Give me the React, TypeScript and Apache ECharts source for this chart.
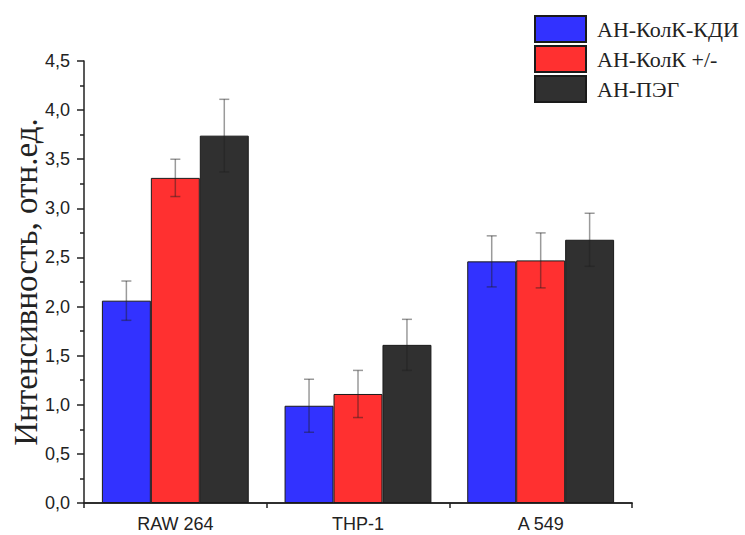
import React, { useEffect, useRef } from "react";
import * as echarts from "echarts";

const categories = ["RAW 264", "THP-1", "A 549"];
const seriesNames = ["АН-КолК-КДИ", "АН-КолК +/-", "АН-ПЭГ"];
const kdiValues = [2.06, 0.99, 2.46];
const kdiErrors = [0.2, 0.27, 0.26];
const kolkValues = [3.31, 1.11, 2.47];
const kolkErrors = [0.19, 0.24, 0.28];
const pegValues = [3.74, 1.61, 2.68];
const pegErrors = [0.37, 0.26, 0.27];
const yTicks = { min: 0, max: 4.5, interval: 0.5 };

const colors = ["#3232ff", "#ff3030", "#303030"];
const BAR_FRAC = 0.268;

export default function App() {
  const ref = useRef<HTMLDivElement>(null);
  useEffect(() => {
    if (!ref.current) return;
    const chart = echarts.init(ref.current, undefined, { renderer: "svg" });
    const values = [kdiValues, kolkValues, pegValues];
    const errors = [kdiErrors, kolkErrors, pegErrors];

    const barSeries = values.map((vals, i) => ({
      name: seriesNames[i],
      type: "bar",
      xAxisIndex: 0,
      data: vals,
      barWidth: BAR_FRAC * 100 + "%",
      barGap: "0%",
      itemStyle: { color: colors[i], borderColor: "#1a1a1a", borderWidth: 1 },
      z: 2,
    }));

    const errSeries = values.map((vals, i) => ({
      type: "custom",
      xAxisIndex: 0,
      z: 5,
      data: vals.map((v, k) => [k, v, errors[i][k]]),
      encode: { x: 0, y: 1 },
      renderItem: (params: any, api: any) => {
        const idx = api.value(0);
        const v = api.value(1);
        const e = api.value(2);
        const top = api.coord([idx, v + e]);
        const bot = api.coord([idx, v - e]);
        const w = api.size([1, 0])[0];
        const x = top[0] + (i - 1) * BAR_FRAC * w;
        const cap = 5;
        const style = { stroke: "rgba(30,30,30,0.45)", lineWidth: 1.5 };
        return {
          type: "group",
          children: [
            { type: "line", shape: { x1: x, y1: top[1], x2: x, y2: bot[1] }, style },
            { type: "line", shape: { x1: x - cap, y1: top[1], x2: x + cap, y2: top[1] }, style },
            { type: "line", shape: { x1: x - cap, y1: bot[1], x2: x + cap, y2: bot[1] }, style },
          ],
        };
      },
    }));

    chart.setOption({
      animation: false,
      grid: { left: 84, right: 113, top: 61, bottom: 32, containLabel: false, outerBoundsMode: "none" },
      legend: {
        orient: "vertical",
        left: 534,
        top: 15,
        padding: 0,
        itemWidth: 51,
        itemHeight: 26,
        itemGap: 2,
        icon: "rect",
        data: seriesNames,
        textStyle: { fontFamily: "Liberation Serif", fontSize: 22, color: "#222", padding: [0, 0, 0, 6] },
      },
      xAxis: [
        {
          type: "category",
          data: categories,
          position: "bottom",
          axisLine: { lineStyle: { color: "#222", width: 1.5 } },
          axisTick: { alignWithLabel: true, length: 8, lineStyle: { color: "#222", width: 1.5 } },
          axisLabel: { fontFamily: "Liberation Sans", fontSize: 18, color: "#222", margin: 12 },
        },
        {
          type: "category",
          data: categories,
          position: "bottom",
          axisLine: { show: true, lineStyle: { color: "#222", width: 1.5 } },
          axisTick: { show: true, length: 5, lineStyle: { color: "#222", width: 1.5 } },
          axisLabel: { show: false },
        },
      ],
      yAxis: {
        type: "value",
        min: yTicks.min,
        max: yTicks.max,
        interval: yTicks.interval,
        name: "Интенсивность, отн.ед.",
        nameLocation: "middle",
        nameGap: 42,
        nameMoveOverlap: false,
        nameTextStyle: { fontFamily: "Liberation Serif", fontSize: 33, color: "#222" },
        axisLine: { show: true, lineStyle: { color: "#222", width: 1.5 } },
        axisTick: { show: true, length: 7, lineStyle: { color: "#222", width: 1.5 } },
        minorTick: { show: true, splitNumber: 2, length: 4, lineStyle: { color: "#222", width: 1.5 } },
        splitLine: { show: false },
        axisLabel: {
          fontFamily: "Liberation Sans",
          fontSize: 18,
          color: "#222",
          margin: 14,
          formatter: (v: number) => v.toFixed(1).replace(".", ","),
        },
      },
      series: [...barSeries, ...errSeries],
    });
    return () => chart.dispose();
  }, []);
  return (
    <div
      ref={ref}
      style={{ position: "fixed", left: 0, top: 0, width: 745, height: 535, background: "#fff" }}
    />
  );
}
